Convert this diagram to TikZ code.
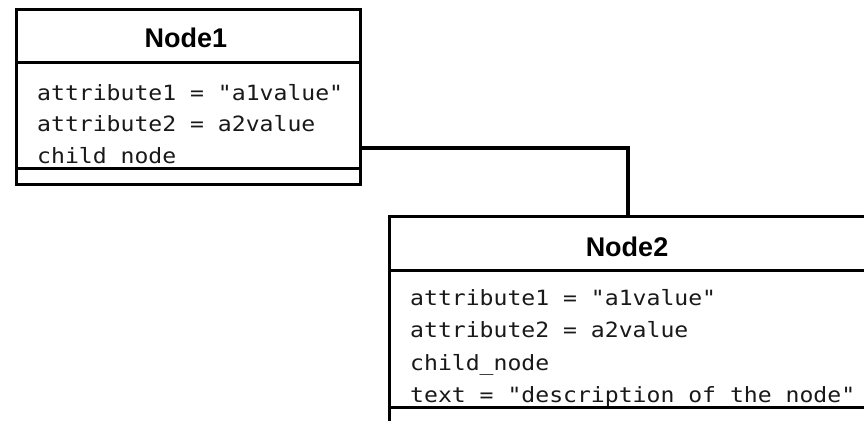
\documentclass[tikz,border=0pt]{standalone}
\usepackage{fontspec}
\setmainfont{Liberation Sans}
\newfontfamily\titlefont{Liberation Sans}
\newfontfamily\monofont[FakeStretch=1.1]{DejaVu Sans Mono}
\begin{document}
\begin{tikzpicture}[x=1pt,y=-1pt,
  box/.style={draw=black, line width=3.4pt, fill=white, inner sep=0pt, anchor=north west},
  divider/.style={draw=black, line width=3pt},
  conn/.style={draw=black, line width=3.2pt},
  title/.style={font=\titlefont\bfseries\fontsize{27}{30}\selectfont, text=black, inner sep=0pt, anchor=base},
  attr/.style={font=\monofont\fontsize{21}{24}\selectfont, text=black!90, inner sep=0pt, anchor=base west}]
\useasboundingbox (0,0) rectangle (864,420);
\clip (0,0) rectangle (864,420);
\fill[white] (0,0) rectangle (864,420);
% connector bend points
\coordinate (c1) at (359,148);
\coordinate (c2) at (628,148);
% Node1
\node[box, minimum width=344pt, minimum height=175pt] (n1) at (15,8) {};
\node[title] (n1t) at (186,48) {Node1};
\node[attr] (n1a) at (37,100) {attribute1 = "a1value"};
\node[attr] (n1b) at (37,131.5) {attribute2 = a2value};
\node[attr] (n1c) at (37,163) {child\_node};
\draw[divider] (n1.west |- 0,63) -- (n1.east |- 0,63);
\draw[divider] (n1.west |- 0,168) -- (n1.east |- 0,168);
% Node2
\node[box, minimum width=478pt, minimum height=240pt] (n2) at (388,215) {};
\node[title] (n2t) at (627,256) {Node2};
\node[attr] (n2a) at (410,305) {attribute1 = "a1value"};
\node[attr] (n2b) at (410,337.5) {attribute2 = a2value};
\node[attr] (n2c) at (410,370) {child\_node};
\node[attr] (n2d) at (410,402) {text = "description of the node"};
\draw[divider] (n2.west |- 0,270) -- (n2.east |- 0,270);
\draw[divider] (n2.west |- 0,407) -- (n2.east |- 0,407);
% connector drawn node to node
\draw[conn] (n1.east |- c1) -- (c2) -- (c2 |- n2.north);
\end{tikzpicture}
\end{document}
